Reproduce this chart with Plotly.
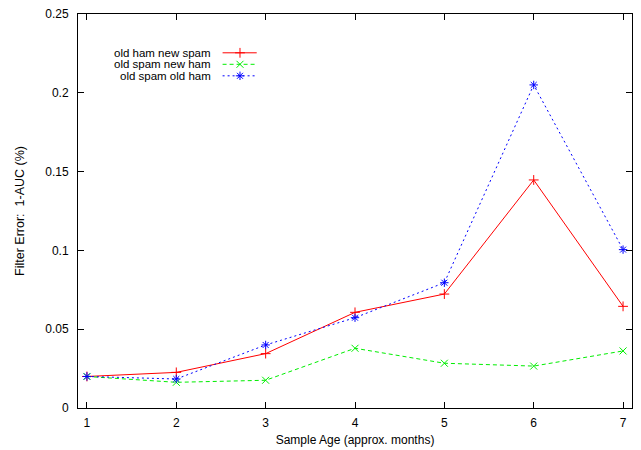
import plotly.graph_objects as go

months = [1, 2, 3, 4, 5, 6, 7]
old_ham_new_spam = [0.020, 0.0226, 0.0345, 0.0607, 0.0723, 0.1447, 0.0645]
old_spam_new_ham = [0.020, 0.0163, 0.0176, 0.0379, 0.0284, 0.0266, 0.0362]
old_spam_old_ham = [0.020, 0.0184, 0.0400, 0.0573, 0.0795, 0.2050, 0.1005]

series_names = ["old ham new spam", "old spam new ham", "old spam old ham"]
colors = ["#ff0000", "#00ee00", "#0000ff"]
dashes = ["solid", "4px,3px", "2px,3px"]
symbols = ["cross-thin", "x-thin", "asterisk-open"]
series = [old_ham_new_spam, old_spam_new_ham, old_spam_old_ham]

FONT = "Liberation Sans, Arial, sans-serif"

fig = go.Figure()
for name, vals, c, d, s in zip(series_names, series, colors, dashes, symbols):
    fig.add_trace(go.Scatter(
        x=months, y=vals, name=name, mode="lines+markers",
        line=dict(color=c, width=1, dash=d),
        marker=dict(symbol=s, size=7, color=c, line=dict(color=c, width=1)),
        showlegend=False,
    ))

# custom gnuplot-style legend on an overlay axis (0..1 coordinates of plot area)
legend_rows = [0.9015, 0.8723, 0.8431]
for i, (name, c, d, s) in enumerate(zip(series_names, colors, dashes, symbols)):
    yy = legend_rows[i]
    fig.add_trace(go.Scatter(
        x=[0.261, 0.3226], y=[yy, yy], xaxis="x2", yaxis="y2",
        mode="lines", line=dict(color=c, width=1, dash=d),
        showlegend=False, hoverinfo="skip",
    ))
    fig.add_trace(go.Scatter(
        x=[0.2924], y=[yy], xaxis="x2", yaxis="y2",
        mode="markers",
        marker=dict(symbol=s, size=7, color=c, line=dict(color=c, width=1)),
        showlegend=False, hoverinfo="skip",
    ))
    fig.add_annotation(
        x=0.2437, y=yy, xref="x2", yref="y2", text=name, showarrow=False,
        xanchor="right", yanchor="middle",
        font=dict(family=FONT, size=11.5, color="#000"),
    )

axis_common = dict(
    showline=True, linecolor="#000", linewidth=1, mirror="ticks",
    ticks="inside", ticklen=6, tickcolor="#000", tickwidth=1,
    showgrid=False, zeroline=False, automargin=False,
    tickfont=dict(family=FONT, size=12, color="#000"),
)

fig.update_layout(
    width=641, height=450,
    margin=dict(l=78, r=9, t=14, b=42),
    paper_bgcolor="white", plot_bgcolor="white",
    font=dict(family=FONT, size=12, color="#000"),
    xaxis=dict(range=[0.9, 7.1], tickvals=months, ticktext=[str(m) for m in months],
               title=dict(text="Sample Age (approx. months)", standoff=6,
                          font=dict(family=FONT, size=12, color="#000")),
               ticklabelstandoff=4, **axis_common),
    yaxis=dict(range=[0, 0.25], tickvals=[0, 0.05, 0.1, 0.15, 0.2, 0.25],
               ticktext=["0", "0.05", "0.1", "0.15", "0.2", "0.25"],
               title=dict(text="Filter Error:  1-AUC (%)", standoff=17,
                          font=dict(family=FONT, size=12.5, color="#000")),
               ticklabelstandoff=6, **axis_common),
    xaxis2=dict(range=[0, 1], overlaying="x", visible=False, fixedrange=True),
    yaxis2=dict(range=[0, 1], overlaying="y", visible=False, fixedrange=True),
    showlegend=False,
)

fig.write_html("out.html", config={"displayModeBar": False},
               post_script="document.body.style.margin='0';document.body.style.overflow='hidden';")
